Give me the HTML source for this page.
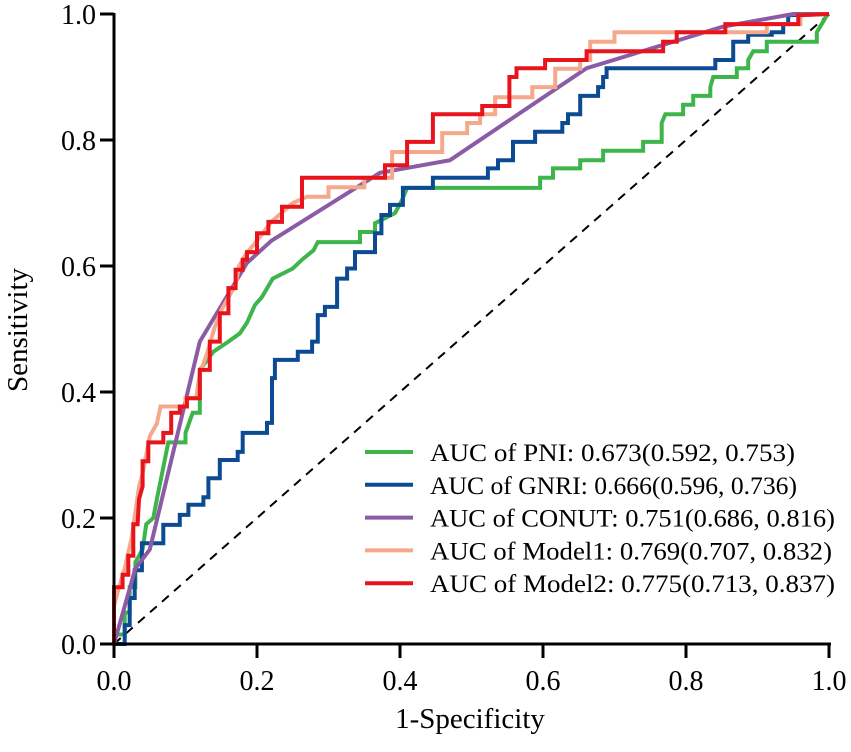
<!DOCTYPE html>
<html><head><meta charset="utf-8"><style>
html,body{margin:0;padding:0;background:#fff;}
svg text{font-family:"Liberation Serif",serif;fill:#000;}
</style></head><body>
<svg id="chart" width="851" height="747" viewBox="0 0 851 747" xmlns="http://www.w3.org/2000/svg">
<g id="plot"></g>
<g id="axes"></g>
<g id="legend"></g>
</svg>
<script>
const xTicks = [0, 0.2, 0.4, 0.6, 0.8, 1.0];
const yTicks = [0, 0.2, 0.4, 0.6, 0.8, 1.0];
const tickLabels = ["0.0","0.2","0.4","0.6","0.8","1.0"];
const seriesNames = ["AUC of PNI: 0.673(0.592, 0.753)","AUC of GNRI: 0.666(0.596, 0.736)","AUC of CONUT: 0.751(0.686, 0.816)","AUC of Model1: 0.769(0.707, 0.832)","AUC of Model2: 0.775(0.713, 0.837)"];
const seriesColors = ["#3db54a","#0d4a94","#8c5ba6","#f5a98c","#e8141c"];
const pniFpr = [0,0,0.015,0.015,0.022,0.022,0.03,0.03,0.04,0.045,0.055,0.06,0.076,0.1,0.1,0.11,0.12,0.12,0.139,0.16,0.176,0.186,0.197,0.207,0.222,0.25,0.263,0.279,0.285,0.344,0.344,0.365,0.365,0.393,0.403,0.41,0.41,0.596,0.596,0.614,0.614,0.652,0.652,0.684,0.684,0.74,0.74,0.766,0.766,0.771,0.796,0.796,0.81,0.81,0.834,0.834,0.838,0.871,0.871,0.887,0.887,0.894,0.913,0.913,0.983,0.983,0.997,1];
const pniTpr = [0,0.015,0.015,0.05,0.05,0.09,0.09,0.13,0.15,0.19,0.2,0.23,0.32,0.32,0.335,0.367,0.367,0.435,0.464,0.48,0.493,0.51,0.538,0.551,0.58,0.596,0.61,0.625,0.638,0.638,0.654,0.654,0.668,0.684,0.705,0.724,0.724,0.724,0.74,0.74,0.755,0.755,0.768,0.768,0.783,0.783,0.797,0.797,0.827,0.841,0.841,0.856,0.856,0.87,0.87,0.884,0.9,0.9,0.914,0.914,0.927,0.941,0.941,0.956,0.956,0.971,0.998,1];
const gnriFpr = [0,0.015,0.015,0.022,0.022,0.029,0.029,0.039,0.039,0.069,0.069,0.092,0.092,0.104,0.104,0.125,0.125,0.132,0.132,0.148,0.148,0.173,0.173,0.18,0.18,0.214,0.214,0.221,0.221,0.225,0.225,0.257,0.257,0.277,0.277,0.285,0.285,0.295,0.295,0.312,0.312,0.326,0.326,0.337,0.337,0.365,0.365,0.374,0.374,0.386,0.386,0.404,0.404,0.446,0.446,0.523,0.523,0.537,0.537,0.558,0.558,0.589,0.589,0.627,0.627,0.635,0.635,0.652,0.652,0.677,0.677,0.684,0.684,0.689,0.689,0.841,0.841,0.866,0.866,0.887,0.887,0.92,0.92,0.936,0.936,0.943,0.943,1];
const gnriTpr = [0,0,0.03,0.03,0.073,0.073,0.117,0.117,0.16,0.16,0.189,0.189,0.205,0.205,0.221,0.221,0.233,0.233,0.263,0.263,0.292,0.292,0.305,0.305,0.335,0.335,0.351,0.351,0.422,0.422,0.451,0.451,0.464,0.464,0.48,0.48,0.522,0.522,0.535,0.535,0.58,0.58,0.596,0.596,0.622,0.622,0.652,0.652,0.681,0.681,0.697,0.697,0.724,0.724,0.74,0.74,0.755,0.755,0.768,0.768,0.797,0.797,0.813,0.813,0.827,0.827,0.841,0.841,0.87,0.87,0.884,0.884,0.9,0.9,0.914,0.914,0.927,0.927,0.956,0.956,0.967,0.967,0.971,0.971,0.984,0.984,0.998,1];
const conutFpr = [0,0.03,0.05,0.12,0.186,0.22,0.372,0.47,0.661,0.852,0.95,1];
const conutTpr = [0,0.12,0.15,0.48,0.605,0.64,0.748,0.768,0.914,0.98,1,1];
const model1Fpr = [0,0,0.007,0.015,0.025,0.03,0.035,0.04,0.045,0.05,0.06,0.065,0.1,0.1,0.115,0.12,0.13,0.14,0.15,0.16,0.17,0.175,0.185,0.2,0.22,0.25,0.27,0.3,0.3,0.35,0.35,0.389,0.389,0.459,0.459,0.494,0.494,0.512,0.512,0.533,0.533,0.585,0.585,0.617,0.617,0.652,0.652,0.666,0.666,0.7,0.7,0.913,0.913,0.96,0.96,1];
const model1Tpr = [0,0.06,0.09,0.12,0.17,0.21,0.25,0.27,0.3,0.33,0.35,0.377,0.377,0.39,0.39,0.43,0.46,0.5,0.53,0.55,0.57,0.6,0.62,0.64,0.67,0.7,0.71,0.71,0.725,0.725,0.74,0.74,0.781,0.781,0.811,0.811,0.827,0.827,0.841,0.841,0.868,0.868,0.884,0.884,0.913,0.913,0.927,0.927,0.956,0.956,0.971,0.971,0.984,0.984,0.998,1];
const model2Fpr = [0,0,0.012,0.012,0.02,0.02,0.027,0.027,0.033,0.035,0.04,0.04,0.048,0.048,0.069,0.069,0.08,0.08,0.092,0.092,0.102,0.102,0.12,0.12,0.134,0.134,0.148,0.148,0.16,0.16,0.17,0.17,0.18,0.18,0.186,0.186,0.2,0.2,0.216,0.216,0.235,0.235,0.263,0.263,0.379,0.379,0.41,0.41,0.446,0.446,0.515,0.515,0.553,0.553,0.563,0.563,0.603,0.603,0.661,0.661,0.768,0.768,0.787,0.787,0.855,0.855,0.957,0.957,1];
const model2Tpr = [0,0.09,0.09,0.11,0.11,0.14,0.14,0.19,0.19,0.23,0.25,0.29,0.29,0.32,0.32,0.335,0.335,0.367,0.367,0.377,0.377,0.39,0.39,0.435,0.435,0.48,0.48,0.525,0.525,0.565,0.565,0.594,0.594,0.61,0.61,0.622,0.622,0.652,0.652,0.67,0.67,0.694,0.694,0.74,0.74,0.76,0.76,0.797,0.797,0.841,0.841,0.854,0.854,0.9,0.9,0.914,0.914,0.927,0.927,0.941,0.941,0.956,0.956,0.971,0.971,0.984,0.984,0.998,1];

const X0 = 114, X1 = 829, Y0 = 644, Y1 = 14;
function sx(v){ return X0 + v*(X1-X0); }
function sy(v){ return Y0 - v*(Y0-Y1); }
const NS = "http://www.w3.org/2000/svg";
function mk(tag, attrs, parent){
  const e = document.createElementNS(NS, tag);
  for (const k in attrs) e.setAttribute(k, attrs[k]);
  parent.appendChild(e); return e;
}
const plot = document.getElementById('plot');
const axes = document.getElementById('axes');
const legend = document.getElementById('legend');

const diag = mk('line', {x1:sx(0), y1:sy(0), x2:sx(1), y2:sy(1), stroke:'#000', 'stroke-width':2, 'stroke-dasharray':'9,7'}, plot);



const allFpr = [pniFpr, gnriFpr, conutFpr, model1Fpr, model2Fpr];
const allTpr = [pniTpr, gnriTpr, conutTpr, model1Tpr, model2Tpr];
const keys = ['pni','gnri','conut','model1','model2'];
for (let s = 0; s < 5; s++) {
  const pts = allFpr[s].map((f, i) => sx(f).toFixed(1) + ',' + sy(allTpr[s][i]).toFixed(1)).join(' ');
  const pl = mk('polyline', {points: pts, fill:'none', stroke: seriesColors[s], 'stroke-width':4, 'stroke-linejoin':'miter'}, plot);
  
  
}

const xa = mk('line', {x1:X0-1, y1:Y0, x2:X1+2, y2:Y0, stroke:'#000', 'stroke-width':3}, axes);


const ya = mk('line', {x1:X0, y1:Y0+1, x2:X0, y2:Y1-1, stroke:'#000', 'stroke-width':3}, axes);


xTicks.forEach((t, i) => {
  const tk = mk('line', {x1:sx(t), y1:Y0, x2:sx(t), y2:Y0+14, stroke:'#000', 'stroke-width':3}, axes);
  
  
  const tl = mk('text', {x:sx(t), y:Y0+46, 'text-anchor':'middle', 'font-size':28}, axes);
  tl.textContent = tickLabels[i];
  
  
});
yTicks.forEach((t, i) => {
  const tk = mk('line', {x1:X0-14, y1:sy(t), x2:X0, y2:sy(t), stroke:'#000', 'stroke-width':3}, axes);
  
  
  const tl = mk('text', {x:X0-18, y:sy(t)+10, 'text-anchor':'end', 'font-size':28}, axes);
  tl.textContent = tickLabels[i];
  
  
});
const xt = mk('text', {x:470, y:728, 'text-anchor':'middle', 'font-size':29}, axes);
xt.textContent = '1-Specificity';


const yt = mk('text', {x:0, y:0, 'text-anchor':'middle', 'font-size':29, transform:'translate(27,330) rotate(-90)'}, axes);
yt.textContent = 'Sensitivity';



const legendEnds = [795, 797, 835, 832, 835];
for (let s = 0; s < 5; s++) {
  const y = 452 + s*32.8;
  const g = mk('g', {}, legend);
  
  
  mk('line', {x1:365, y1:y, x2:413, y2:y, stroke:seriesColors[s], 'stroke-width':4}, g);
  const tx = mk('text', {x:430, y:y+9, 'font-size':25, textLength: legendEnds[s]-430, lengthAdjust:'spacingAndGlyphs'}, g);
  tx.textContent = seriesNames[s];
}
</script>
</body></html>
